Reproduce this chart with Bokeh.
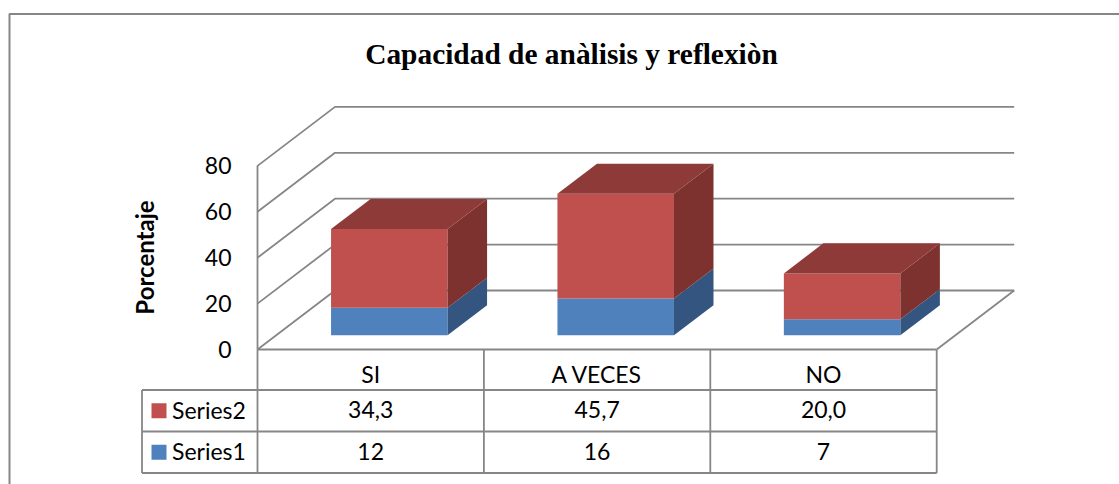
from bokeh.plotting import figure
from bokeh.models import LinearAxis, FixedTicker, Range1d
from bokeh.core.properties import value
from bokeh.embed import file_html
from bokeh.resources import INLINE

categories = ["SI", "A VECES", "NO"]
series1 = [12, 16, 7]
series2 = [34.3, 45.7, 20.0]
series2_labels = ["34,3", "45,7", "20,0"]
series1_labels = ["12", "16", "7"]
y_ticks = [0, 20, 40, 60, 80]
title_text = "Capacidad de anàlisis y reflexiòn"
y_title = "Porcentaje"

W, H = 1119, 484
X0, SLOT = 257.0, 226.4      # page px of category 0, px per category
Y0, UNIT = 349.0, 2.295      # page px of value 0, px per value unit
p = figure(width=W, height=H, output_backend="svg", toolbar_location=None,
           x_range=Range1d(-X0 / SLOT, (W - X0) / SLOT),
           y_range=Range1d((Y0 - H) / UNIT, Y0 / UNIT),
           x_axis_type=None, y_axis_type=None, min_border=0,
           outline_line_color=None, background_fill_color="white", border_fill_color="white")
p.grid.visible = False

def px_x(x): return (x - X0) / SLOT
def px_y(y): return (Y0 - y) / UNIT

GRID = "#868686"
LW = 1.8
DX, DY = 77.5 / SLOT, 59.0 / UNIT     # full depth of the floor in data units
n = len(categories)

def project(x, v, z):
    return x + z * DX, v + z * DY

# walls / gridlines
for v in y_ticks:
    fx, fy = project(0, v, 0)
    bx, by = project(0, v, 1)
    ex, ey = project(n, v, 1)
    p.line([fx, bx, ex], [fy, by, ey], line_color=GRID, line_width=LW)
p.line([project(n, 0, 1)[0], project(n, 0, 0)[0]], [project(n, 0, 1)[1], project(n, 0, 0)[1]],
       line_color=GRID, line_width=LW)

# 3D stacked bars
Z0, Z1 = 0.24, 0.75
BAR = 116.5 / SLOT
FRONT = ["#4F81BD", "#C0504D"]
SIDE = ["#34557F", "#7D3230"]
TOP = "#8E3A38"
for i in range(n):
    x0 = i + 0.5 - BAR / 2
    x1 = x0 + BAR
    base = 0.0
    for k, vals in enumerate([series1, series2]):
        v0, v1 = base, base + vals[i]
        a = [project(x0, v0, Z0), project(x1, v0, Z0), project(x1, v1, Z0), project(x0, v1, Z0)]
        p.patch([q[0] for q in a], [q[1] for q in a], fill_color=FRONT[k], line_color=None)
        s = [project(x1, v0, Z0), project(x1, v0, Z1), project(x1, v1, Z1), project(x1, v1, Z0)]
        p.patch([q[0] for q in s], [q[1] for q in s], fill_color=SIDE[k], line_color=None)
        base = v1
    t = [project(x0, base, Z0), project(x1, base, Z0), project(x1, base, Z1), project(x0, base, Z1)]
    p.patch([q[0] for q in t], [q[1] for q in t], fill_color=TOP, line_color=None)

# real axes, pinned to the chart's zero lines
yax = LinearAxis(fixed_location=0, ticker=FixedTicker(ticks=y_ticks), bounds=(0, 80),
                 major_tick_line_color=None, minor_tick_line_color=None,
                 axis_line_color=GRID, axis_line_width=LW,
                 major_label_text_font="Lato", major_label_text_font_size="23px",
                 major_label_text_color="black", major_label_standoff=20,
                 axis_label=y_title, axis_label_text_font="Lato",
                 axis_label_text_font_size="24px", axis_label_text_font_style="bold",
                 axis_label_text_color="black", axis_label_standoff=43)
p.add_layout(yax, "left")
xax = LinearAxis(fixed_location=0, ticker=FixedTicker(ticks=[i + 0.5 for i in range(n)]), bounds=(0, n),
                 major_label_overrides={i + 0.5: c for i, c in enumerate(categories)},
                 major_tick_line_color=None, minor_tick_line_color=None,
                 axis_line_color=GRID, axis_line_width=LW,
                 major_label_text_font="Lato", major_label_text_font_size="23px",
                 major_label_text_color="black", major_label_standoff=4)
p.add_layout(xax, "below")

# data table chrome
ROWS = [349.0, 389.5, 431.0, 472.5]
LEG_L = 141.5
for y in ROWS[1:]:
    p.line([px_x(LEG_L), n], [px_y(y), px_y(y)], line_color=GRID, line_width=LW)
for i in range(n + 1):
    p.line([i, i], [px_y(ROWS[0]), px_y(ROWS[3])], line_color=GRID, line_width=LW)
p.line([px_x(LEG_L)] * 2, [px_y(ROWS[1]), px_y(ROWS[3])], line_color=GRID, line_width=LW)

centers = [i + 0.5 for i in range(n)]
for row, labels in ((1, series2_labels), (2, series1_labels)):
    yc = px_y((ROWS[row] + ROWS[row + 1]) / 2 - 1)
    p.text(centers, [yc] * n, text=labels, text_align="center", text_baseline="middle",
           text_font=value("Lato"), text_font_size="23px", text_color="black")

# legend keys in the table
for row, name, col in ((1, "Series2", FRONT[1]), (2, "Series1", FRONT[0])):
    yc = (ROWS[row] + ROWS[row + 1]) / 2
    p.quad(left=px_x(151), right=px_x(166), top=px_y(yc - 7.5), bottom=px_y(yc + 7.5),
           fill_color=col, line_color=None)
    p.text([px_x(171.5)], [px_y(yc - 1)], text=[name], text_align="left", text_baseline="middle",
           text_font=value("Lato"), text_font_size="23px", text_color="black")

# outer chart border (top + left)
p.line([px_x(9), px_x(9), px_x(1119)], [px_y(484), px_y(13.5), px_y(13.5)], line_color=GRID, line_width=2)

# title
p.text([px_x(571)], [px_y(53)], text=[title_text], text_align="center", text_baseline="middle",
       text_font=value("Liberation Serif"), text_font_style="bold", text_font_size="29.4px", text_color="black")

open("out.html", "w").write(file_html(p, INLINE))
